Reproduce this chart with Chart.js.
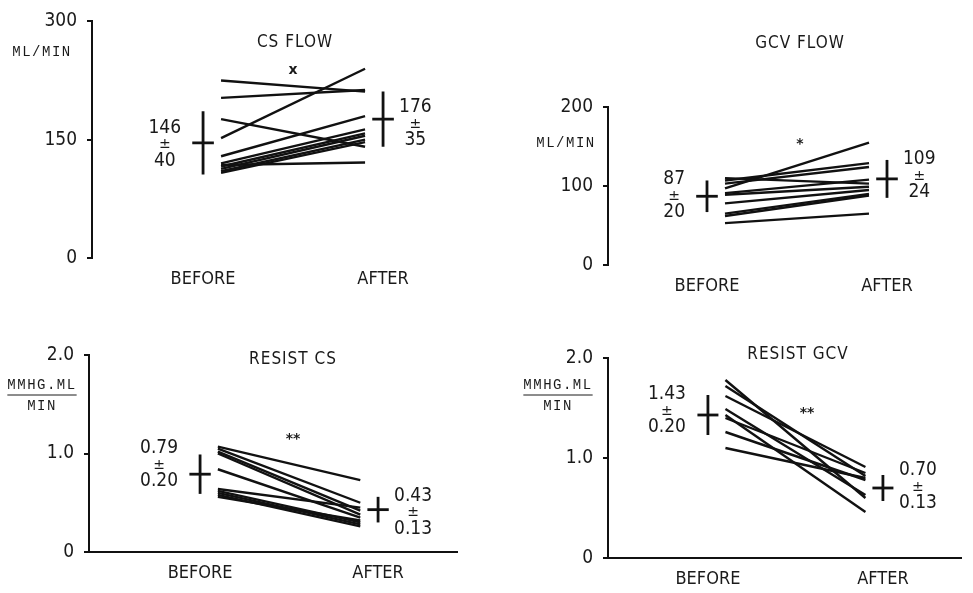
<!DOCTYPE html>
<html>
<head>
<meta charset="utf-8">
<script src="https://cdn.jsdelivr.net/npm/chart.js@4.4.1/dist/chart.umd.min.js"></script>
<style>
  body { margin: 0; background: #fff; width: 973px; height: 593px; overflow: hidden; position: relative; }
  canvas { position: absolute; }
</style>
</head>
<body>
<canvas id="c1"></canvas>
<canvas id="c2"></canvas>
<canvas id="c3"></canvas>
<canvas id="c4"></canvas>
<script>
// ---- data ----
const groups = ["BEFORE", "AFTER"];

const csFlowBefore = [225, 203, 152, 176, 129, 120, 116, 113, 110, 108, 118];
const csFlowAfter = [211, 213, 240, 141, 180, 163, 158, 155, 150, 147, 121];
const csFlowMean = [146, 176];
const csFlowSd = [40, 35];
const csFlowTicks = [0, 150, 300];

const gcvFlowBefore = [110, 107, 103, 97, 91, 89, 78, 65, 62, 53];
const gcvFlowAfter = [103, 129, 124, 155, 108, 99, 95, 90, 88, 65];
const gcvFlowMean = [87, 109];
const gcvFlowSd = [20, 24];
const gcvFlowTicks = [0, 100, 200];

const resistCsBefore = [1.07, 1.05, 1.02, 1.0, 0.84, 0.64, 0.62, 0.6, 0.58, 0.56];
const resistCsAfter = [0.73, 0.5, 0.42, 0.38, 0.35, 0.45, 0.3, 0.28, 0.26, 0.32];
const resistCsMean = [0.79, 0.43];
const resistCsSd = [0.2, 0.13];
const resistTicks = [0, 1, 2];

const resistGcvBefore = [1.78, 1.72, 1.62, 1.49, 1.43, 1.4, 1.26, 1.1];
const resistGcvAfter = [0.6, 0.82, 0.91, 0.63, 0.46, 0.85, 0.78, 0.8];
const resistGcvMean = [1.43, 0.7];
const resistGcvSd = [0.2, 0.13];

Chart.defaults.font.family = "'Liberation Sans Narrow', 'DejaVu Sans Condensed', sans-serif";
Chart.defaults.color = "#1a1a1a";

const ink = "#111";
const LINE_X0 = 0.1, LINE_X1 = 0.9; // where the subject lines start / end

// layout of each panel (page pixels)
const panels = [
  { id: "c1", before: csFlowBefore, after: csFlowAfter, mean: csFlowMean, sd: csFlowSd,
    ticks: csFlowTicks, yMax: 300, dec: 0, title: "CS FLOW", sig: "x", unit: ["ML/MIN"],
    left: 0, top: 0, yW: 92, plotW: 363, topY: 21, bottomY: 258, xH: 40, xMin: -0.617, unitPx: 180,
    xAxis: false, titlePos: [295, 43], sigPos: [293, 70], unitPos: [42, 52], dy: [2, 5] },
  { id: "c2", before: gcvFlowBefore, after: gcvFlowAfter, mean: gcvFlowMean, sd: gcvFlowSd,
    ticks: gcvFlowTicks, yMax: 200, dec: 0, title: "GCV FLOW", sig: "*", unit: ["ML/MIN"],
    left: 518, top: 0, yW: 90, plotW: 352, topY: 107, bottomY: 265, xH: 40, xMin: -0.55, unitPx: 180,
    xAxis: false, titlePos: [800, 44], sigPos: [800, 144], unitPos: [566, 143], dy: [0, -3] },
  { id: "c3", before: resistCsBefore, after: resistCsAfter, mean: resistCsMean, sd: resistCsSd,
    ticks: resistTicks, yMax: 2, dec: 2, title: "RESIST CS", sig: "**", unit: ["MMHG.ML", "MIN"],
    left: 0, top: 320, yW: 89, plotW: 369, topY: 355, bottomY: 552, xH: 40, xMin: -0.624, unitPx: 178,
    xAxis: true, titlePos: [293, 360], sigPos: [293, 439], unitPos: [42, 385], dy: [-9, 3] },
  { id: "c4", before: resistGcvBefore, after: resistGcvAfter, mean: resistGcvMean, sd: resistGcvSd,
    ticks: resistTicks, yMax: 2, dec: 2, title: "RESIST GCV", sig: "**", unit: ["MMHG.ML", "MIN"],
    left: 508, top: 320, yW: 100, plotW: 354, topY: 358, bottomY: 558, xH: 35, xMin: -0.571, unitPx: 175,
    xAxis: true, titlePos: [798, 355], sigPos: [807, 413], unitPos: [558, 385], dy: [-4, -1] }
];

function stack(ctx, cx, cy, top, bottom) {
  ctx.textAlign = "center";
  ctx.textBaseline = "middle";
  ctx.font = "19px 'Liberation Sans Narrow', 'DejaVu Sans Condensed', sans-serif";
  ctx.fillText(top, cx, cy - 17);
  ctx.fillText(bottom, cx, cy + 16);
  ctx.font = "14px 'DejaVu Sans', sans-serif";
  ctx.fillText("\u00b1", cx, cy);
}

function notesFor(p) {
  return {
    id: "notes",
    afterDraw(chart) {
      const ctx = chart.ctx, xs = chart.scales.x, ys = chart.scales.y;
      const fmt = (v) => v.toFixed(p.dec);
      ctx.save();
      ctx.fillStyle = "#1a1a1a";
      ctx.strokeStyle = "#1a1a1a";

      // title
      ctx.font = "17px 'Liberation Sans Narrow', 'DejaVu Sans Condensed', sans-serif";
      ctx.letterSpacing = "1px";
      ctx.textAlign = "center";
      ctx.textBaseline = "middle";
      ctx.fillText(p.title, p.titlePos[0] - p.left, p.titlePos[1] - p.top);
      ctx.letterSpacing = "0px";

      // significance mark
      ctx.font = "bold 14px 'DejaVu Sans', sans-serif";
      ctx.fillText(p.sig, p.sigPos[0] - p.left, p.sigPos[1] - p.top);

      // unit label
      ctx.font = "14px 'Liberation Mono', monospace";
      ctx.letterSpacing = "1.5px";
      const ux = p.unitPos[0] - p.left, uy = p.unitPos[1] - p.top;
      ctx.fillText(p.unit[0], ux, uy);
      if (p.unit.length > 1) {
        const w = ctx.measureText(p.unit[0]).width;
        ctx.lineWidth = 1;
        ctx.beginPath();
        ctx.moveTo(ux - w / 2, uy + 10);
        ctx.lineTo(ux + w / 2, uy + 10);
        ctx.stroke();
        ctx.fillText(p.unit[1], ux, uy + 21);
      }
      ctx.letterSpacing = "0px";

      // mean +- sd labels
      ctx.font = "19px 'Liberation Sans Narrow', 'DejaVu Sans Condensed', sans-serif";
      const b0 = fmt(p.mean[0]), b1 = fmt(p.sd[0]);
      const wb = Math.max(ctx.measureText(b0).width, ctx.measureText(b1).width);
      stack(ctx, xs.getPixelForValue(0) - 22 - wb / 2, ys.getPixelForValue(p.mean[0]) + p.dy[0], b0, b1);
      ctx.font = "19px 'Liberation Sans Narrow', 'DejaVu Sans Condensed', sans-serif";
      const a0 = fmt(p.mean[1]), a1 = fmt(p.sd[1]);
      const wa = Math.max(ctx.measureText(a0).width, ctx.measureText(a1).width);
      stack(ctx, xs.getPixelForValue(1) + 16 + wa / 2, ys.getPixelForValue(p.mean[1]) + p.dy[1], a0, a1);
      ctx.restore();
    }
  };
}

panels.forEach((p) => {
  const cv = document.getElementById(p.id);
  const padTop = p.topY - p.top;
  cv.width = p.yW + p.plotW;
  cv.height = p.bottomY - p.top + p.xH;
  cv.style.left = p.left + "px";
  cv.style.top = p.top + "px";

  const datasets = p.before.map((b, i) => ({
    data: [{ x: LINE_X0, y: b }, { x: LINE_X1, y: p.after[i] }],
    borderColor: ink, borderWidth: 2.4, pointRadius: 0, showLine: true
  }));
  [0, 1].forEach((g) => {
    const m = p.mean[g], s = p.sd[g];
    datasets.push({ data: [{ x: g, y: m - s }, { x: g, y: m + s }],
      borderColor: ink, borderWidth: 2.8, pointRadius: 0, showLine: true });
    datasets.push({ data: [{ x: g - 0.06, y: m }, { x: g + 0.06, y: m }],
      borderColor: ink, borderWidth: 2.8, pointRadius: 0, showLine: true });
  });

  new Chart(cv, {
    type: "scatter",
    data: { datasets },
    options: {
      responsive: false,
      animation: false,
      layout: { padding: { top: padTop, right: 0, bottom: 0, left: 0 } },
      plugins: { legend: { display: false }, tooltip: { enabled: false } },
      scales: {
        x: {
          type: "linear",
          min: p.xMin,
          max: p.xMin + p.plotW / p.unitPx,
          afterBuildTicks: (s) => { s.ticks = [{ value: 0 }, { value: 1 }]; },
          afterFit: (s) => { s.height = p.xH; },
          grid: { display: false, drawTicks: false },
          border: { display: p.xAxis, color: ink, width: 2 },
          ticks: { padding: 11, font: { size: 18 }, callback: (v) => groups[v] }
        },
        y: {
          min: 0,
          max: p.yMax,
          afterBuildTicks: (s) => { s.ticks = p.ticks.map((v) => ({ value: v })); },
          afterFit: (s) => { s.width = p.yW; },
          grid: { display: true, drawOnChartArea: false, tickLength: 5, color: ink, lineWidth: 2 },
          border: { display: true, color: ink, width: 2 },
          ticks: {
            padding: 10,
            font: { size: 19 },
            callback: (v) => (p.dec === 0 || v === 0 ? String(v) : v.toFixed(1))
          }
        }
      }
    },
    plugins: [notesFor(p)]
  });
});
</script>
</body>
</html>
